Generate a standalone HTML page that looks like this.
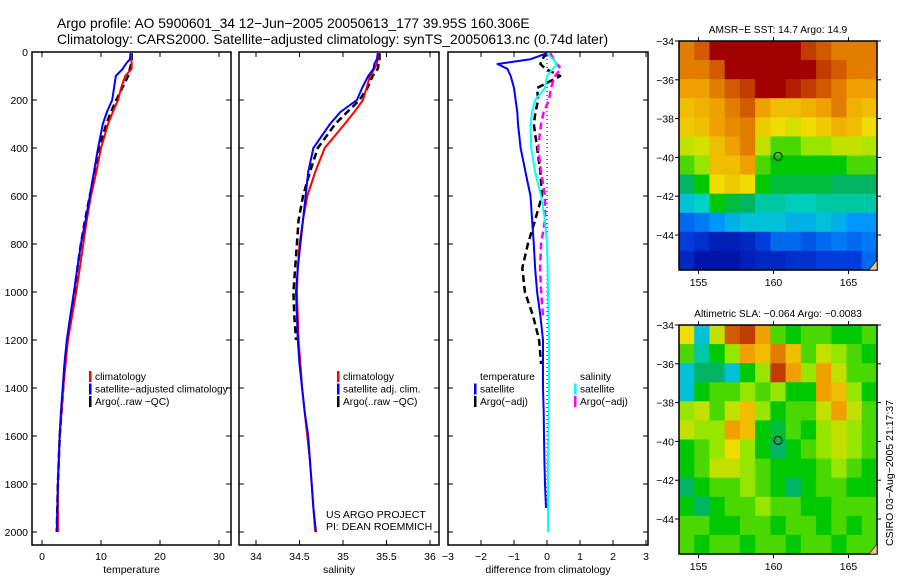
<!DOCTYPE html>
<html><head><meta charset="utf-8">
<style>
html,body{margin:0;padding:0;background:#fff;}
svg{display:block;font-family:"Liberation Sans",sans-serif;}
</style></head>
<body>
<svg id="fig" width="900" height="580" viewBox="0 0 900 580" xmlns="http://www.w3.org/2000/svg">
<text x="57" y="28" font-size="13.8">Argo profile: AO 5900601_34 12−Jun−2005 20050613_177 39.95S 160.306E</text>
<text x="57" y="44" font-size="13.8">Climatology: CARS2000. Satellite−adjusted climatology: synTS_20050613.nc (0.74d later)</text>
<g id="g"></g>
</svg>
<script>
// ---------- data ----------
const depths = [5,30,50,70,100,150,200,250,300,400,500,600,700,800,900,1000,1100,1200,1300,1400,1500,1600,1700,1800,1900,2000];
const tempClim = [15.1,15.1,15.2,15.2,14.1,13.4,12.9,12.0,11.2,10.0,9.2,8.3,7.6,7.0,6.4,5.8,5.1,4.4,4.0,3.6,3.3,3.0,2.85,2.7,2.7,2.7];
const tempSat  = [15.0,14.9,14.2,13.7,12.5,12.2,11.9,11.0,10.3,9.5,8.8,8.1,7.4,6.6,6.0,5.4,4.8,4.2,3.8,3.5,3.2,3.0,2.85,2.7,2.6,2.5];
const tempArgo = [15.2,15.2,15.1,14.9,14.6,13.6,12.6,11.7,10.9,9.7,8.9,8.1,7.3,6.6,6.0,5.5,4.9,4.3,3.9,3.6,3.3,3.0,2.85,2.7,2.6,2.5];
const salClim = [35.40,35.40,35.39,35.36,35.31,35.27,35.23,35.13,35.02,34.79,34.68,34.59,34.54,34.50,34.48,34.47,34.48,34.49,34.51,34.53,34.56,34.59,34.62,34.64,34.66,34.68];
const salSat  = [35.40,35.39,35.36,35.35,35.29,35.22,35.16,34.97,34.85,34.66,34.60,34.57,34.54,34.51,34.48,34.46,34.47,34.48,34.50,34.53,34.56,34.60,34.62,34.64,34.66,34.69];
const salArgo = [35.42,35.42,35.41,35.40,35.34,35.28,35.19,35.05,34.91,34.71,34.62,34.54,34.49,34.47,34.45,34.43,34.44,34.46,null,null,null,null,null,null,null,null];
const diffTempSat  = [0,-0.5,-1.5,-1.2,-1.1,-1.0,-0.95,-0.9,-0.88,-0.8,-0.65,-0.5,-0.45,-0.4,-0.36,-0.3,-0.2,-0.12,-0.12,-0.12,-0.1,-0.09,-0.08,-0.06,-0.03,null];
const diffTempArgo = [0,-0.15,-0.2,-0.05,0.4,-0.3,-0.27,-0.35,-0.4,-0.3,-0.2,-0.15,-0.36,-0.58,-0.75,-0.67,-0.42,-0.24,-0.18,null,null,null,null,null,null,null];
const diffSalSat   = [0,0.18,0.3,0.18,0,-0.06,-0.36,-0.45,-0.5,-0.48,-0.36,-0.18,-0.06,0,0.02,0.03,0.05,0.06,0.06,0.06,0.05,0.04,0.03,0.03,0.03,0.03];
const diffSalArgo  = [0.1,0.2,0.3,0.42,0.24,0.12,0.06,-0.1,-0.18,-0.27,-0.18,-0.06,-0.06,-0.18,-0.21,-0.18,-0.12,null,null,null,null,null,null,null,null,null];
const tempTicks = [0,10,20,30];
const salTicks = [34,34.5,35,35.5,36];
const salTickLabels = ["34","34.5","35","35.5","36"];
const diffTicks = [-3,-2,-1,0,1,2,3];
const depthTicks = [0,200,400,600,800,1000,1200,1400,1600,1800,2000];
const latTicks = [-34,-36,-38,-40,-42,-44];
const lonTicks = [155,160,165];
const sstGrid = [
[.8,.85,1,1,1,1,1,1,.9,.85,.8,.8,.8],
[.8,.8,.85,1,1,1,1,1,1,.9,.85,.8,.8],
[.75,.75,.8,.85,.9,1,1,.95,.9,.85,.8,.75,.75],
[.7,.72,.75,.8,.85,.75,.7,.7,.72,.75,.8,.72,.7],
[.68,.7,.75,.78,.8,.68,.65,.62,.65,.68,.72,.7,.65],
[.6,.62,.7,.75,.8,.6,.5,.5,.55,.55,.6,.6,.58],
[.5,.55,.7,.7,.75,.5,.45,.45,.45,.45,.45,.5,.5],
[.4,.45,.65,.68,.65,.45,.42,.42,.42,.42,.4,.4,.4],
[.3,.32,.45,.42,.4,.35,.35,.33,.33,.35,.35,.35,.35],
[.2,.22,.25,.28,.3,.3,.3,.28,.28,.3,.28,.25,.25],
[.15,.12,.08,.08,.1,.15,.2,.2,.18,.2,.22,.2,.22],
[.1,.05,.05,.05,.08,.1,.1,.12,.12,.15,.15,.15,.2]];
const slaGrid = [
[.65,.3,.6,.85,.9,.75,.5,.45,.5,.5,.45,.45,.5],
[.5,.35,.45,.55,.75,.7,.8,.7,.5,.6,.55,.5,.45],
[.3,.4,.4,.3,.45,.55,.9,.75,.55,.75,.6,.5,.5],
[.3,.45,.5,.5,.55,.5,.55,.45,.45,.75,.7,.55,.45],
[.55,.6,.5,.6,.7,.55,.45,.5,.5,.6,.75,.6,.5],
[.6,.55,.55,.75,.7,.45,.42,.5,.45,.55,.6,.55,.5],
[.45,.5,.55,.65,.55,.45,.4,.45,.5,.55,.6,.55,.5],
[.45,.5,.6,.6,.55,.5,.45,.45,.45,.5,.55,.5,.45],
[.4,.45,.5,.5,.55,.5,.45,.4,.45,.5,.5,.45,.45],
[.45,.4,.45,.5,.5,.55,.5,.5,.45,.45,.5,.5,.5],
[.5,.5,.45,.45,.5,.5,.45,.5,.5,.45,.5,.45,.5],
[.5,.45,.5,.5,.45,.5,.5,.45,.5,.5,.45,.5,.5]];
const argoLon = 160.306, argoLat = -39.95;

// ---------- helpers ----------
const NS = "http://www.w3.org/2000/svg";
const G = document.getElementById('g');
function mk(tag, attrs, parent){ const e=document.createElementNS(NS,tag); for(const k in attrs) e.setAttribute(k,attrs[k]); (parent||G).appendChild(e); return e; }
function txt(x,y,s,size,anchor,parent){ const t=mk('text',{x:x,y:y,'font-size':size,'text-anchor':anchor||'start'},parent); t.textContent=s; return t; }
const yD = d => 52 + d*0.24;

function panel(name,x0,x1,xScale,ticks,labels,showY,xlabel){
  const grp = mk('g',{});
  
  
  const fr = mk('rect',{x:x0,y:52,width:x1-x0,height:493,fill:'none',stroke:'#000','stroke-width':1.5},grp);
  
  
  ticks.forEach((t,i)=>{
    const x=xScale(t);
    if(x>x0+1 && x<x1-1){ mk('line',{x1:x,y1:545,x2:x,y2:540,stroke:'#000'},grp); mk('line',{x1:x,y1:52,x2:x,y2:57,stroke:'#000'},grp); }
    const l=txt(x,560,labels[i],10.5,'middle',grp);
    
    
  });
  depthTicks.forEach(d=>{
    const y=yD(d);
    mk('line',{x1:x0,y1:y,x2:x0+5,y2:y,stroke:'#000'},grp);
    mk('line',{x1:x1-5,y1:y,x2:x1,y2:y,stroke:'#000'},grp);
    if(showY){ const l=txt(x0-4,y+4,String(d),10.5,'end',grp);
      
       }
  });
  const xl=txt((x0+x1)/2,573,xlabel,10.5,'middle',grp);
  
  
  return grp;
}
function series(grp,vals,xScale,color,dash,name){
  let d='', pen=false;
  vals.forEach((v,i)=>{ if(v===null){pen=false;return;} d+=(pen?'L':'M')+xScale(v).toFixed(1)+' '+yD(depths[i]).toFixed(1)+' '; pen=true; });
  const p=mk('path',{d:d,fill:'none',stroke:color,'stroke-width':dash?2.5:2,'stroke-dasharray':dash||'none','stroke-linejoin':'round'},grp);
  
  
}
function legend(grp,x,y,items,name){
  items.forEach((it,i)=>{
    const yy=y+i*12.5;
    if(it[0]) mk('rect',{x:x,y:yy-7,width:2.5,height:11,fill:it[0]},grp);
    const t=txt(x+6,yy+2,it[1],10.2,'start',grp);
    
    
  });
}

// ---------- temperature panel ----------
const xT = v => 42 + v*5.9;
const pT = panel('temperature-panel',32,231,xT,tempTicks,tempTicks.map(String),true,'temperature');
series(pT,tempArgo,xT,'#000','7 4','temp-argo-line');
series(pT,tempClim,xT,'#f00',null,'temp-climatology-line');
series(pT,tempSat,xT,'#00f',null,'temp-satellite-line');
legend(pT,89,378,[['#f00','climatology'],['#00f','satellite−adjusted climatology'],['#000','Argo(..raw −QC)']],'temp-legend');

// ---------- salinity panel ----------
const xS = v => 256 + (v-34)*87;
const pS = panel('salinity-panel',239,439,xS,salTicks,salTickLabels,false,'salinity');
series(pS,salArgo,xS,'#000','7 4','sal-argo-line');
series(pS,salClim,xS,'#f00',null,'sal-climatology-line');
series(pS,salSat,xS,'#00f',null,'sal-satellite-line');
legend(pS,337,378,[['#f00','climatology'],['#00f','satellite adj. clim.'],['#000','Argo(..raw −QC)']],'sal-legend');
const c1=txt(326,518,'US ARGO PROJECT',10.5,'start',pS);  
const c2=txt(326,530,'PI: DEAN ROEMMICH',10.5,'start',pS);  

// ---------- difference panel ----------
const xDf = v => 547 + v*33;
const pD = panel('difference-panel',448,648,xDf,diffTicks,diffTicks.map(v=>v<0?'−'+(-v):String(v)),false,'difference from climatology');
mk('line',{x1:xDf(0),y1:55,x2:xDf(0),y2:yD(1880),stroke:'#000','stroke-dasharray':'1 3'},pD);
series(pD,diffTempArgo,xDf,'#000','7 4','diff-temp-argo-line');
series(pD,diffSalArgo,xDf,'#f0f','7 4','diff-sal-argo-line');
series(pD,diffTempSat,xDf,'#00f',null,'diff-temp-satellite-line');
series(pD,diffSalSat,xDf,'#0ff',null,'diff-sal-satellite-line');
legend(pD,474,378,[[null,'temperature'],['#00f','satellite'],['#000','Argo(−adj)']],'diff-temp-legend');
legend(pD,574,378,[[null,'salinity'],['#0ff','satellite'],['#f0f','Argo(−adj)']],'diff-sal-legend');

// ---------- maps ----------
const stops=[[0,[0,0,140]],[.15,[0,60,220]],[.25,[0,150,255]],[.32,[0,210,200]],[.4,[0,180,100]],[.45,[0,200,0]],[.55,[150,230,0]],[.65,[240,220,0]],[.75,[240,160,0]],[.85,[210,90,0]],[1,[160,0,0]]];
function cmap(v){ for(let i=1;i<stops.length;i++){ if(v<=stops[i][0]){ const a=stops[i-1],b=stops[i],f=(v-a[0])/(b[0]-a[0]); return 'rgb('+a[1].map((c,k)=>Math.round(c+(b[1][k]-c)*f)).join(',')+')'; } } return 'rgb(160,0,0)'; }
function map(name,top,grid,title){
  const grp=mk('g',{});
  
  
  const x0=679,x1=877,lon0=153.7,lon1=166.9,bottom=top+229;
  const xL=lon=>x0+(lon-lon0)*(x1-x0)/(lon1-lon0);
  const yL=lat=>top+(-34-lat)*19.4;
  const nr=grid.length,nc=grid[0].length,cw=(x1-x0)/nc,ch=(bottom-top)/nr;
  grid.forEach((row,r)=>row.forEach((v,c)=>{
    const cell=mk('rect',{x:(x0+c*cw).toFixed(2),y:(top+r*ch).toFixed(2),width:(cw+0.6).toFixed(2),height:(ch+0.6).toFixed(2),fill:cmap(v)},grp);
    
    
  }));
  mk('rect',{x:x0,y:top,width:x1-x0,height:bottom-top,fill:'none',stroke:'#000','stroke-width':1.5},grp);
  latTicks.forEach(l=>{ const y=yL(l); mk('line',{x1:x0,y1:y,x2:x0-4,y2:y,stroke:'#000'},grp); mk('line',{x1:x1,y1:y,x2:x1+4,y2:y,stroke:'#000'},grp);
    const t=txt(x0-5,y+4,'−'+(-l),10.5,'end',grp);   });
  lonTicks.forEach(l=>{ const x=xL(l); mk('line',{x1:x,y1:bottom,x2:x,y2:bottom+4,stroke:'#000'},grp); mk('line',{x1:x,y1:top,x2:x,y2:top-4,stroke:'#000'},grp);
    const t=txt(x,bottom+16,String(l),10.5,'middle',grp);   });
  const tt=txt(778,top-8,title,10.2,'middle',grp);  
  const m=mk('circle',{cx:xL(argoLon),cy:yL(argoLat),r:4,fill:'none',stroke:'#000'},grp);
  
  
  mk('path',{d:`M${x1-8} ${bottom} L${x1} ${bottom-10} L${x1} ${bottom} Z`,fill:'#f0c090',stroke:'#000','stroke-width':0.6},grp);
}
map('sst-map',41,sstGrid,'AMSR−E SST: 14.7 Argo: 14.9');
map('sla-map',325,slaGrid,'Altimetric SLA: −0.064 Argo: −0.0083');
const st=txt(0,0,'CSIRO 03−Aug−2005 21:17:37',10.5,'middle');
st.setAttribute('transform','translate(893,473) rotate(-90)');


</script>
</body></html>
